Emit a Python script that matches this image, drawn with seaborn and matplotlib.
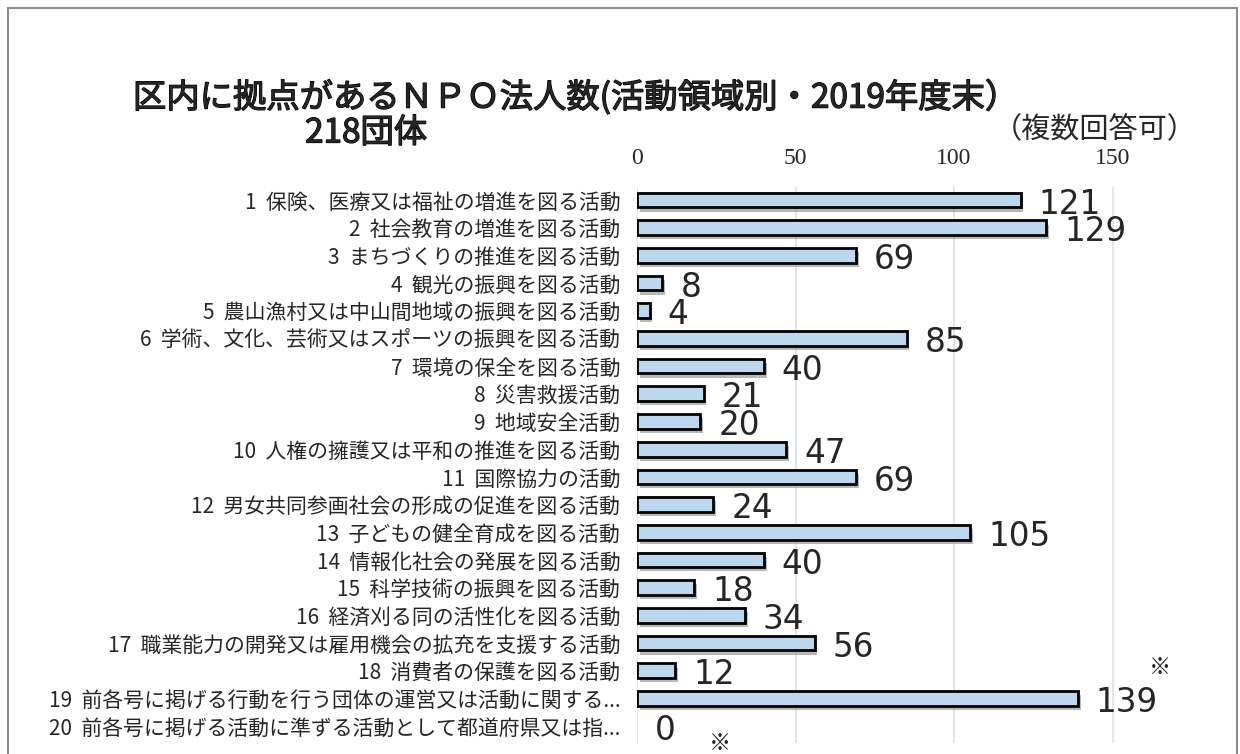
import matplotlib
matplotlib.use('Agg')
import matplotlib.pyplot as plt
import matplotlib.patheffects as pe
from matplotlib.patches import Rectangle
import pandas as pd
import seaborn as sns

### DATA ###
labels = [
    '1  保険、医療又は福祉の増進を図る活動',
    '2  社会教育の増進を図る活動',
    '3  まちづくりの推進を図る活動',
    '4  観光の振興を図る活動',
    '5  農山漁村又は中山間地域の振興を図る活動',
    '6  学術、文化、芸術又はスポーツの振興を図る活動',
    '7  環境の保全を図る活動',
    '8  災害救援活動',
    '9  地域安全活動',
    '10  人権の擁護又は平和の推進を図る活動',
    '11  国際協力の活動',
    '12  男女共同参画社会の形成の促進を図る活動',
    '13  子どもの健全育成を図る活動',
    '14  情報化社会の発展を図る活動',
    '15  科学技術の振興を図る活動',
    '16  経済刈る同の活性化を図る活動',
    '17  職業能力の開発又は雇用機会の拡充を支援する活動',
    '18  消費者の保護を図る活動',
    '19  前各号に掲げる行動を行う団体の運営又は活動に関する...',
    '20  前各号に掲げる活動に準ずる活動として都道府県又は指...',
]
counts = [121, 129, 69, 8, 4, 85, 40, 21, 20, 47, 69, 24, 105, 40, 18, 34, 56, 12, 139, 0]
xticks = [0, 50, 100, 150]

title_line1 = '区内に拠点があるＮＰＯ法人数(活動領域別・2019年度末）'
title_line2 = '218団体'
note = '（複数回答可）'

df = pd.DataFrame({'label': labels, 'count': counts})

### STYLE ###
sns.set_style('white')
plt.rcParams['font.family'] = ['Noto Sans CJK JP', 'DejaVu Sans']

fig = plt.figure(figsize=(12.4, 7.54), dpi=100)
ax = fig.add_axes([0.5137, 0.0146, 0.4347, 0.7374])

sns.barplot(data=df, x='count', y='label', orient='h', ax=ax,
            color='#BDD7EE', edgecolor='black', linewidth=2, width=0.53,
            saturation=1)

# drop shadow on bars; an empty bar draws nothing
for p in ax.patches:
    if p.get_width() == 0:
        p.set_linewidth(0)
        continue
    p.set_path_effects([pe.SimplePatchShadow(offset=(2, -3), shadow_rgbFace='#8a8a8a', alpha=0.6),
                        pe.Normal()])

ax.set_xlim(0, 170)
ax.set_ylim(19.61, -0.47)
ax.set_xticks(xticks)
ax.xaxis.tick_top()
ax.tick_params(axis='x', length=0, pad=13, labelsize=17)
for t in ax.get_xticklabels():
    t.set_family('Liberation Serif')
ax.tick_params(axis='y', length=0, pad=12, labelsize=15)
ax.grid(axis='x', color='#DCE1EA', linewidth=1.2)
ax.set_axisbelow(True)
ax.set_xlabel('')
ax.set_ylabel('')
for s in ax.spines.values():
    s.set_visible(False)

# value labels
for i, v in enumerate(counts):
    ax.annotate(str(v), xy=(v, i), xytext=(13, -3),
                textcoords='offset points', ha='left', va='center',
                fontsize=23.5, family='DejaVu Sans')

# notes
fig.text(1160 / 1240, 1 - 668 / 754, '※', ha='center', va='center', fontsize=16)
fig.text(720 / 1240, 1 - 743 / 754, '※', ha='center', va='center', fontsize=16)

# titles
thick = [pe.withStroke(linewidth=0.9, foreground='black')]
fig.text(133 / 1240, 1 - 98 / 754, title_line1, ha='left', va='center',
         fontsize=24, path_effects=thick)
fig.text(366 / 1240, 1 - 133 / 754, title_line2, ha='center', va='center',
         fontsize=24, path_effects=thick)
fig.text(1095 / 1240, 1 - 130 / 754, note, ha='center', va='center', fontsize=21)

# outer frame
fig.patches.append(Rectangle((8 / 1240, -0.02), 1229 / 1240, 0.02 + 746 / 754,
                             transform=fig.transFigure, fill=False,
                             edgecolor='#8C8C8C', linewidth=1.5))

fig.savefig('out.png', dpi=100)
